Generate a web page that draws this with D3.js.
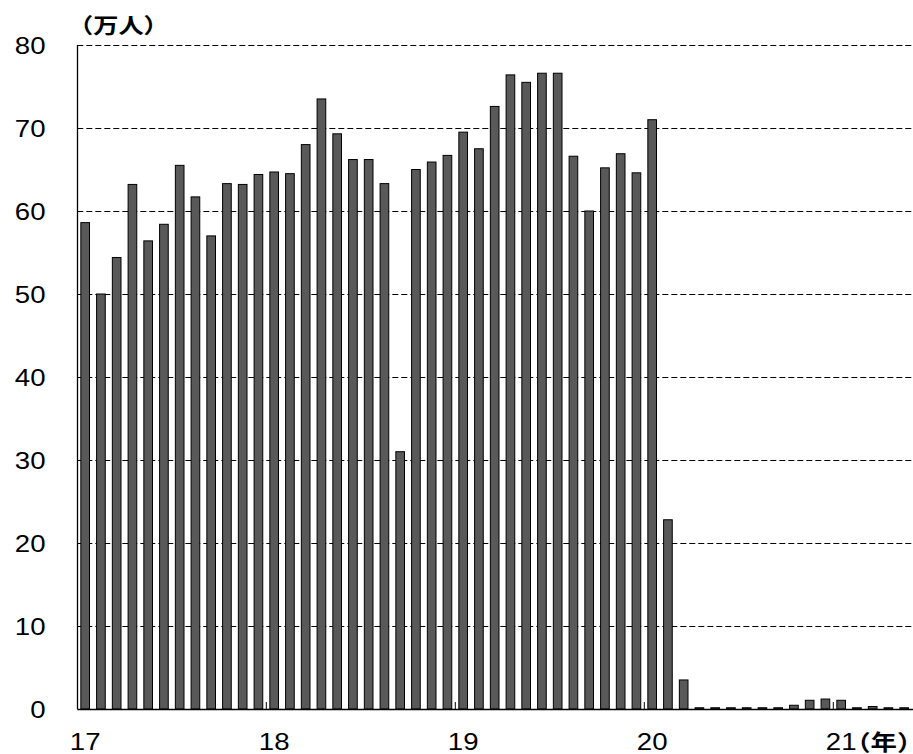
<!DOCTYPE html>
<html>
<head>
<meta charset="utf-8">
<script src="https://cdn.jsdelivr.net/npm/d3@7"></script>
<style>
  html, body { margin: 0; padding: 0; background: #fff; }
  svg { display: block; }
</style>
</head>
<body>
<svg id="chart" width="913" height="754"></svg>
<script>
// Monthly values (万人), Jan 2017 – May 2021
const months = d3.range(53).map(i => {
  const yr = 2017 + Math.floor(i / 12);
  const m = (i % 12) + 1;
  return `${yr}-${String(m).padStart(2, "0")}`;
});
const values = [
  58.6, 50.0, 54.4, 63.2, 56.4, 58.4, 65.5, 61.7, 57.0, 63.3, 63.2, 64.4,
  64.7, 64.5, 68.0, 73.5, 69.3, 66.2, 66.2, 63.3, 31.0, 65.0, 65.9, 66.7,
  69.5, 67.5, 72.6, 76.4, 75.5, 76.6, 76.6, 66.6, 60.0, 65.2, 66.9, 64.6,
  71.0, 22.8, 3.5, 0.15, 0.15, 0.15, 0.15, 0.15, 0.15, 0.45, 1.05, 1.2,
  1.05, 0.15, 0.3, 0.15, 0.15
];
const yTicks = [0, 10, 20, 30, 40, 50, 60, 70, 80];
const yearLabels = ["17", "18", "19", "20", "21"];
const yUnit = "（万人）";
const xUnit = "（年）";

(function () {
const svg = d3.select("#chart");
const step = 15.75;
const pLeft = 77.3, pRight = pLeft + months.length * step;
const pTop = 45, pBottom = 709;

const x = d3.scaleBand().domain(months).range([pLeft, pRight])
  .paddingInner(0.45).paddingOuter(0.225);
const y = d3.scaleLinear().domain([0, 80]).range([pBottom, pTop]);

const font = "'Liberation Sans', Arial, sans-serif";
const cjk = "'Noto Sans CJK JP', sans-serif";
const numSize = 24, numStretch = 1.15;
const cjkSize = 21, cjkStretch = 1.2;

// gridlines
svg.append("g").selectAll("line").data(yTicks.filter(d => d > 0)).join("line")
  .attr("x1", pLeft).attr("x2", 913)
  .attr("y1", d => Math.round(y(d)) + 0.5).attr("y2", d => Math.round(y(d)) + 0.5)
  .attr("stroke", "#000").attr("stroke-width", 1)
  .attr("stroke-dasharray", "6,3");

// bars
svg.append("g").selectAll("rect").data(values).join("rect")
  .attr("x", (d, i) => x(months[i]))
  .attr("width", x.bandwidth())
  .attr("y", d => y(d))
  .attr("height", d => y(0) - y(d))
  .attr("fill", "#595959")
  .attr("stroke", "#000")
  .attr("stroke-width", 1);

// axes lines
svg.append("line")
  .attr("x1", pLeft).attr("x2", 913)
  .attr("y1", Math.round(pBottom) + 0.5).attr("y2", Math.round(pBottom) + 0.5)
  .attr("stroke", "#000").attr("stroke-width", 1.3);
svg.append("line")
  .attr("x1", Math.round(pLeft) + 0.5).attr("x2", Math.round(pLeft) + 0.5)
  .attr("y1", pTop).attr("y2", pBottom)
  .attr("stroke", "#000").attr("stroke-width", 1.3);

// year boundary ticks (inward)
const yearStarts = yearLabels.map((d, k) => months[k * 12]);
svg.append("g").selectAll("line").data(yearStarts.slice(1)).join("line")
  .attr("x1", d => x(d) - x.step() * x.paddingInner() / 2)
  .attr("x2", d => x(d) - x.step() * x.paddingInner() / 2)
  .attr("y1", pBottom).attr("y2", pBottom - 7)
  .attr("stroke", "#000").attr("stroke-width", 1);

// y labels
svg.append("g").selectAll("text").data(yTicks).join("text")
  .attr("transform", d => `translate(45.5,${y(d) + numSize * 0.358}) scale(${numStretch},1)`)
  .attr("text-anchor", "end")
  .attr("font-family", font)
  .attr("font-size", numSize)
  .text(d => d);

// x labels
const xl = svg.append("g");
yearLabels.forEach((lab, k) => {
  const cx = x(months[k * 12]) + x.bandwidth() / 2;
  xl.append("text")
    .attr("transform", `translate(${cx},750) scale(${numStretch},1)`)
    .attr("text-anchor", "middle")
    .attr("font-family", font)
    .attr("font-size", numSize)
    .text(lab);
  if (k === yearLabels.length - 1) {
    xl.append("text")
      .attr("transform", `translate(${cx + 15},750) scale(${cjkStretch},1)`)
      .attr("text-anchor", "start")
      .attr("font-family", cjk)
      .attr("font-size", 22)
      .attr("font-weight", "bold")
      .attr("letter-spacing", 1)
      .style("font-feature-settings", "'palt' 1")
      .text(xUnit);
  }
});

// unit label
svg.append("text")
  .attr("transform", `translate(68,33) scale(${cjkStretch},1)`)
  .attr("font-family", cjk)
  .attr("font-size", cjkSize)
  .attr("font-weight", "bold")
  .text(yUnit);
})();
</script>
</body>
</html>
